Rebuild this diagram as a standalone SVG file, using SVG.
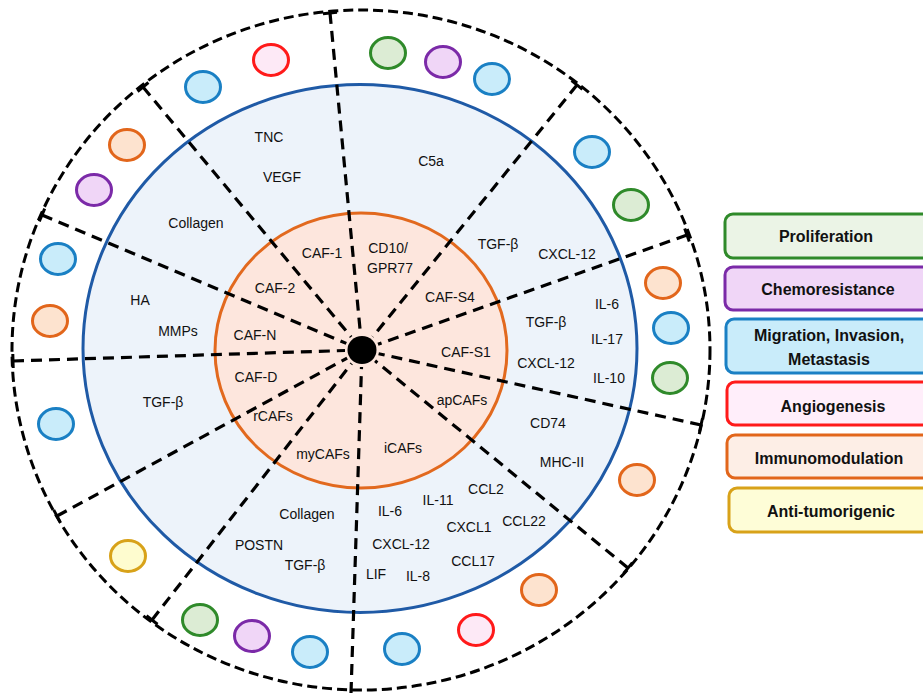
<svg xmlns="http://www.w3.org/2000/svg" width="923" height="693" viewBox="0 0 923 693">
<style>
text{font-family:"Liberation Sans",Arial,sans-serif;font-size:14px;fill:#111;text-anchor:middle}
.lg{font-weight:bold;font-size:16px}
.rad{stroke:#000;stroke-width:3.2;stroke-dasharray:11 7;fill:none}
.tick{stroke:#000;stroke-width:3;fill:none}
.dg{fill:#dcecd4;stroke:#2f8a2a;stroke-width:3}
.dp{fill:#f0d6f7;stroke:#7b2aa8;stroke-width:3}
.db{fill:#c9ecfa;stroke:#1a80c4;stroke-width:3}
.dr{fill:#fde9f6;stroke:#ff1a1a;stroke-width:3}
.do{fill:#fde3cf;stroke:#e2661b;stroke-width:3}
.dy{fill:#fefccf;stroke:#d8a219;stroke-width:3}
</style>
<rect width="923" height="693" fill="#fff"/>
<g id="rings">
<ellipse id="outer-ring" cx="361" cy="350" rx="349" ry="340" fill="none" stroke="#000" stroke-width="3" stroke-dasharray="10 5"/>
<ellipse id="blue-ring" cx="360" cy="348.5" rx="277" ry="264" fill="#edf3fa" stroke="#1f5aa6" stroke-width="3"/>
<ellipse id="orange-ring" cx="361" cy="350.5" rx="146" ry="137.5" fill="#fde6dd" stroke="#e2691e" stroke-width="3"/>
</g>
<g id="connectors">
<line class="rad" x1="330" y1="13" x2="360.4" y2="333.1"/>
<line class="rad" x1="143" y1="87" x2="351.1" y2="336.9"/>
<line class="rad" x1="42" y1="215" x2="346.3" y2="343.4"/>
<line class="rad" x1="13" y1="361" x2="345" y2="350.5"/>
<line class="rad" x1="57" y1="516" x2="347.1" y2="358.1"/>
<line class="rad" x1="152" y1="620" x2="351.6" y2="363.4"/>
<line class="rad" x1="351" y1="693" x2="361.5" y2="367"/>
<line class="rad" x1="628" y1="568" x2="375.1" y2="360.8"/>
<line class="rad" x1="701" y1="425" x2="378.6" y2="353.7"/>
<line class="rad" x1="687" y1="235" x2="378" y2="344.3"/>
<line class="rad" x1="577" y1="85" x2="372.7" y2="336.8"/>
<line class="tick" x1="337" y1="12.3" x2="323" y2="13.7"/>
<line class="tick" x1="148.4" y1="82.5" x2="137.6" y2="91.5"/>
<line class="tick" x1="44.7" y1="208.6" x2="39.3" y2="221.4"/>
<line class="tick" x1="12.8" y1="354" x2="13.2" y2="368"/>
<line class="tick" x1="53.7" y1="509.9" x2="60.3" y2="522.1"/>
<line class="tick" x1="146.5" y1="615.7" x2="157.5" y2="624.3"/>
<line class="tick" x1="623.6" y1="573.4" x2="632.4" y2="562.6"/>
<line class="tick" x1="699.5" y1="431.8" x2="702.5" y2="418.2"/>
<line class="tick" x1="689.3" y1="241.6" x2="684.7" y2="228.4"/>
<line class="tick" x1="582.4" y1="89.4" x2="571.6" y2="80.6"/>
</g>
<g id="center-dot"><ellipse cx="362" cy="350" rx="14.5" ry="14" fill="#000"/></g>
<g id="caf-subtypes">
<text x="322" y="258">CAF-1</text>
<text x="388" y="253">CD10/</text>
<text x="390" y="273">GPR77</text>
<text x="275" y="293">CAF-2</text>
<text x="450" y="302">CAF-S4</text>
<text x="255" y="340">CAF-N</text>
<text x="466" y="357">CAF-S1</text>
<text x="256" y="382">CAF-D</text>
<text x="462" y="405">apCAFs</text>
<text x="273" y="421">rCAFs</text>
<text x="323" y="459">myCAFs</text>
<text x="403" y="453">iCAFs</text>
</g>
<g id="secreted-factors">
<text x="269" y="142">TNC</text>
<text x="282" y="182">VEGF</text>
<text x="196" y="228">Collagen</text>
<text x="140" y="305">HA</text>
<text x="178" y="336">MMPs</text>
<text x="163" y="407">TGF-β</text>
<text x="431" y="166">C5a</text>
<text x="498" y="249">TGF-β</text>
<text x="567" y="259">CXCL-12</text>
<text x="607" y="309">IL-6</text>
<text x="546" y="327">TGF-β</text>
<text x="607" y="344">IL-17</text>
<text x="546" y="368">CXCL-12</text>
<text x="609" y="383">IL-10</text>
<text x="548" y="428">CD74</text>
<text x="562" y="467">MHC-II</text>
<text x="486" y="494">CCL2</text>
<text x="438" y="505">IL-11</text>
<text x="390" y="516">IL-6</text>
<text x="524" y="526">CCL22</text>
<text x="469" y="532">CXCL1</text>
<text x="401" y="549">CXCL-12</text>
<text x="473" y="566">CCL17</text>
<text x="376" y="579">LIF</text>
<text x="418" y="581">IL-8</text>
<text x="307" y="519">Collagen</text>
<text x="259" y="550">POSTN</text>
<text x="305" y="570">TGF-β</text>
</g>
<g id="function-dots">
<ellipse class="dr" cx="271" cy="60" rx="17.5" ry="15.5"/>
<ellipse class="db" cx="203" cy="87" rx="17.5" ry="15.5"/>
<ellipse class="do" cx="127" cy="145" rx="17.5" ry="15.5"/>
<ellipse class="dp" cx="94" cy="190" rx="17.5" ry="15.5"/>
<ellipse class="db" cx="58" cy="259" rx="17.5" ry="15.5"/>
<ellipse class="do" cx="50" cy="321" rx="17.5" ry="15.5"/>
<ellipse class="db" cx="56" cy="424" rx="17.5" ry="15.5"/>
<ellipse class="dy" cx="128" cy="556" rx="17.5" ry="15.5"/>
<ellipse class="dg" cx="200" cy="620" rx="17.5" ry="15.5"/>
<ellipse class="dp" cx="252" cy="636" rx="17.5" ry="15.5"/>
<ellipse class="db" cx="310" cy="652" rx="17.5" ry="15.5"/>
<ellipse class="db" cx="402" cy="649" rx="17.5" ry="15.5"/>
<ellipse class="dr" cx="476" cy="630" rx="17.5" ry="15.5"/>
<ellipse class="do" cx="539" cy="590" rx="17.5" ry="15.5"/>
<ellipse class="do" cx="637" cy="480" rx="17.5" ry="15.5"/>
<ellipse class="do" cx="663" cy="283" rx="17.5" ry="15.5"/>
<ellipse class="db" cx="671" cy="328" rx="17.5" ry="15.5"/>
<ellipse class="dg" cx="670" cy="378" rx="17.5" ry="15.5"/>
<ellipse class="db" cx="592" cy="152" rx="17.5" ry="15.5"/>
<ellipse class="dg" cx="631" cy="205" rx="17.5" ry="15.5"/>
<ellipse class="dg" cx="388" cy="53" rx="17.5" ry="15.5"/>
<ellipse class="dp" cx="443" cy="62" rx="17.5" ry="15.5"/>
<ellipse class="db" cx="492" cy="79" rx="17.5" ry="15.5"/>
</g>
<g id="legend-proliferation">
<rect x="725" y="214" width="215" height="44" rx="8" fill="#ebf4e6" stroke="#2f8a2a" stroke-width="3"/>
<text class="lg" x="826" y="242">Proliferation</text>
</g>
<g id="legend-chemoresistance">
<rect x="725" y="267" width="215" height="43" rx="8" fill="#f0d6f7" stroke="#7b2aa8" stroke-width="3"/>
<text class="lg" x="828" y="295">Chemoresistance</text>
</g>
<g id="legend-migration">
<rect x="726" y="319" width="215" height="54" rx="8" fill="#c9ecfa" stroke="#1a80c4" stroke-width="3"/>
<text class="lg" x="829" y="341">Migration, Invasion,</text>
<text class="lg" x="829" y="365">Metastasis</text>
</g>
<g id="legend-angiogenesis">
<rect x="727" y="382" width="215" height="43" rx="8" fill="#ffeefa" stroke="#ff1a1a" stroke-width="3"/>
<text class="lg" x="833" y="412">Angiogenesis</text>
</g>
<g id="legend-immunomodulation">
<rect x="727" y="435" width="215" height="43" rx="8" fill="#fdeee6" stroke="#e2661b" stroke-width="3"/>
<text class="lg" x="829" y="464">Immunomodulation</text>
</g>
<g id="legend-antitumorigenic">
<rect x="729" y="488" width="215" height="44" rx="8" fill="#fefdd7" stroke="#d8a219" stroke-width="3"/>
<text class="lg" x="831" y="517">Anti-tumorigenic</text>
</g>
</svg>
